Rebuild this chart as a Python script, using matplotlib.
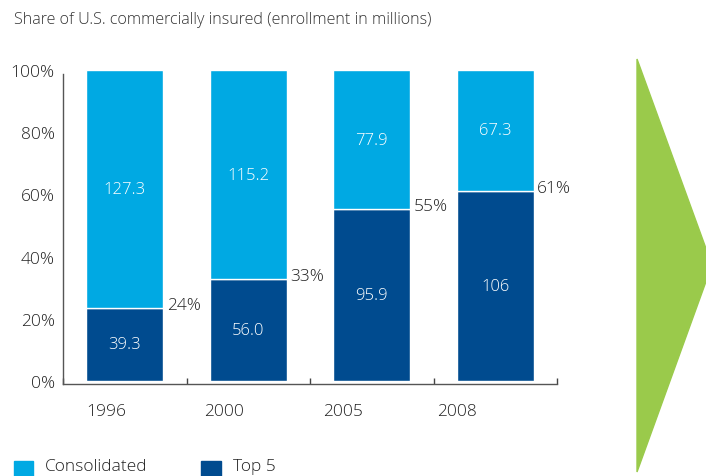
import matplotlib
matplotlib.use("Agg")
from matplotlib import pyplot as plt
from matplotlib.patches import Polygon, Rectangle

plt.rcParams['font.family'] = ['Open Sans', 'DejaVu Sans']
plt.rcParams['font.weight'] = 'light'

years = ["1996", "2000", "2005", "2008"]
top5 = [39.3, 56.0, 95.9, 106]
consolidated = [127.3, 115.2, 77.9, 67.3]
top5_labels = ["39.3", "56.0", "95.9", "106"]
cons_labels = ["127.3", "115.2", "77.9", "67.3"]

light = "#00a9e3"
dark = "#004b8f"
green = "#9aca4b"
txt = "#222222"

W, H = 706, 477
fig = plt.figure(figsize=(W / 100, H / 100), dpi=100)
ax = fig.add_axes([63 / W, (H - 382) / H, 494 / W, 311 / H])

x = list(range(len(years)))
share_top = [t / (t + c) * 100 for t, c in zip(top5, consolidated)]
share_cons = [100 - s for s in share_top]

ax.bar(x, share_top, width=0.62, color=dark, edgecolor="white", linewidth=1)
ax.bar(x, share_cons, width=0.62, bottom=share_top, color=light,
       edgecolor="white", linewidth=1)

for i in x:
    ax.text(i, share_top[i] / 2, top5_labels[i], ha="center", va="center",
            color="white", fontsize=12)
    ax.text(i, share_top[i] + share_cons[i] / 2, cons_labels[i], ha="center",
            va="center", color="white", fontsize=12)
    ax.text(i + 0.34, share_top[i] + 1, "%d%%" % round(share_top[i]),
            ha="left", va="center", color=txt, fontsize=12.5)

ax.set_xlim(-0.5, 3.5)
ax.set_ylim(0, 100)
ax.set_yticks([0, 20, 40, 60, 80, 100])
ax.set_yticklabels(["0%", "20%", "40%", "60%", "80%", "100%"])
ax.set_xticks([-0.5, 0.5, 1.5, 2.5, 3.5])
ax.set_xticklabels([])
ax.tick_params(axis="y", length=0, pad=6, labelsize=12.5, labelcolor=txt)
ax.tick_params(axis="x", direction="in", length=4.5, width=1, color="#444444")

# year labels sit a bit left of the bar centres
shift = [-0.15, -0.2, -0.23, -0.31]
for i in x:
    ax.text(i + shift[i], -7, years[i], ha="center", va="top", color=txt,
            fontsize=12.5, transform=ax.transData)

for s in ["top", "right"]:
    ax.spines[s].set_visible(False)
ax.spines["bottom"].set_position(("outward", 2.2))
ax.spines["left"].set_bounds(-1, 98.7)
for s in ["bottom", "left"]:
    ax.spines[s].set_color("#555555")
    ax.spines[s].set_linewidth(1)

fig.text(14 / W, 1 - 20 / H, "Share of U.S. commercially insured (enrollment in millions)",
         ha="left", va="center", fontsize=11.6, color="#333333")

# legend
fig.patches.append(Rectangle((14 / W, 1 - 481 / H), 19 / W, 19 / H,
                             transform=fig.transFigure, color=light))
fig.text(45 / W, 1 - 467 / H, "Consolidated", ha="left", va="center",
         fontsize=12.5, color=txt)
fig.patches.append(Rectangle((201 / W, 1 - 481 / H), 20 / W, 19 / H,
                             transform=fig.transFigure, color=dark))
fig.text(233 / W, 1 - 467 / H, "Top 5", ha="left", va="center",
         fontsize=12.5, color=txt)

# green arrow on the right
fig.patches.append(Polygon([(637 / W, 1 - 60 / H), (712 / W, 1 - 266 / H),
                            (637 / W, 1 - 473 / H)], closed=True,
                           transform=fig.transFigure, color=green))

fig.savefig("out.png", dpi=100)
